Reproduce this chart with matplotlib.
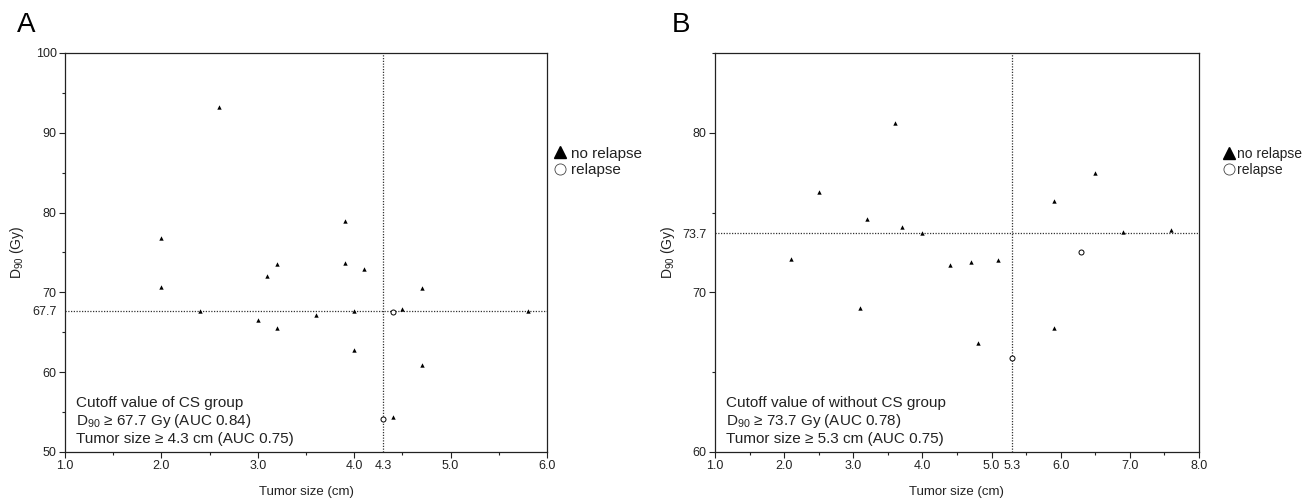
import matplotlib

matplotlib.use("Agg")
import matplotlib.pyplot as plt
from matplotlib.lines import Line2D
from matplotlib.ticker import MultipleLocator

plt.rcParams["font.family"] = ["Liberation Sans", "DejaVu Sans"]
plt.rcParams["mathtext.fontset"] = "custom"
plt.rcParams["mathtext.rm"] = "Liberation Sans"
plt.rcParams["mathtext.it"] = "Liberation Sans"

# panel A: CS group
a_norel_size = [2.6, 2.0, 3.9, 2.0, 2.4, 3.2, 3.1, 3.0, 3.2, 3.6, 3.9, 4.1, 4.7, 4.0, 4.5, 5.8, 4.0, 4.7, 4.4]
a_norel_d90 = [93.2, 76.8, 79.0, 70.7, 67.7, 73.6, 72.0, 66.6, 65.6, 67.2, 73.7, 72.9, 70.5, 67.7, 67.9, 67.7, 62.8, 60.9, 54.4]
a_rel_size = [4.4, 4.3]
a_rel_d90 = [67.5, 54.1]
a_cut_size = 4.3
a_cut_d90 = 67.7
a_lines = ["Cutoff value of CS group",
           "D$_{90}$ \u2265 67.7 Gy (AUC 0.84)",
           "Tumor size \u2265 4.3 cm (AUC 0.75)"]

# panel B: without CS group
b_norel_size = [3.6, 2.5, 3.2, 3.7, 4.0, 2.1, 3.1, 4.4, 4.7, 4.8, 5.1, 5.9, 6.9, 7.6, 5.9, 6.5]
b_norel_d90 = [80.6, 76.3, 74.6, 74.1, 73.7, 72.1, 69.0, 71.7, 71.9, 66.8, 72.0, 75.7, 73.8, 73.9, 67.8, 77.5]
b_rel_size = [6.3, 5.3]
b_rel_d90 = [72.5, 65.9]
b_cut_size = 5.3
b_cut_d90 = 73.7
b_lines = ["Cutoff value of without CS group",
           "D$_{90}$ \u2265 73.7 Gy (AUC 0.78)",
           "Tumor size \u2265 5.3 cm (AUC 0.75)"]

INK = "#222222"


def draw_panel(ax, letter, norel, rel, cut, xlim, ylim, yticks, lines,
               legend_x, legend_size, handle_len, label_x, letter_x):
    ax.scatter(norel[0], norel[1], marker="^", s=10, color="black", linewidths=0, zorder=3)
    ax.scatter(rel[0], rel[1], marker="o", s=13, facecolors="white", edgecolors="black",
               linewidths=0.7, zorder=3)
    ax.axvline(cut[0], color="#333333", linestyle=(0, (1, 1.2)), linewidth=0.9, zorder=2)
    ax.axhline(cut[1], color="#333333", linestyle=(0, (1, 1.2)), linewidth=0.9, zorder=2)

    ax.set_xlim(*xlim)
    ax.set_ylim(*ylim)
    xt = [float(v) for v in range(int(xlim[0]), int(xlim[1]) + 1)] + [cut[0]]
    ax.set_xticks(xt)
    ax.set_xticklabels([f"{v:.1f}" for v in xt])
    ax.xaxis.set_minor_locator(MultipleLocator(0.5))
    yt = list(yticks) + [cut[1]]
    ax.set_yticks(yt)
    ax.set_yticklabels([f"{v:g}" for v in yt])
    ax.yaxis.set_minor_locator(MultipleLocator(5))
    ax.tick_params(which="major", direction="out", length=4, width=0.8, color=INK,
                   labelsize=9, labelcolor=INK, pad=2)
    ax.tick_params(which="minor", direction="out", length=2.5, width=0.8, color=INK)
    for tick in ax.xaxis.get_major_ticks()[-1:] + ax.yaxis.get_major_ticks()[-1:]:
        tick.tick1line.set_visible(False)
    for spine in ax.spines.values():
        spine.set_color(INK)
        spine.set_linewidth(0.9)

    ax.set_xlabel("Tumor size (cm)", fontsize=9.5, color=INK)
    ax.xaxis.set_label_coords(0.5, -0.085)
    ax.xaxis.label.set_va("top")
    ax.set_ylabel("D$_{90}$ (Gy)", fontsize=10, color=INK)
    ax.yaxis.set_label_coords(label_x, 0.5)

    ax.text(0.023, 0.016, "\n".join(lines), transform=ax.transAxes, fontsize=11,
            color=INK, ha="left", va="bottom", linespacing=1.17)
    ax.text(letter_x, 1.053, letter, transform=ax.transAxes, fontsize=20, color="black",
            ha="left", va="baseline")

    handles = [
        Line2D([], [], marker="^", linestyle="none", markersize=8, color="black"),
        Line2D([], [], marker="o", linestyle="none", markersize=8,
               markerfacecolor="white", markeredgecolor="#444444", markeredgewidth=0.6),
    ]
    ax.legend(handles, ["no relapse", "relapse"], loc="upper left",
              bbox_to_anchor=(legend_x, 0.765), frameon=False, fontsize=legend_size,
              handlelength=handle_len, handletextpad=0.2, labelspacing=0.15,
              borderpad=0, borderaxespad=0, labelcolor=INK)


fig = plt.figure(figsize=(13.08, 4.99), dpi=100)
ax_a = fig.add_axes([0.0497, 0.0942, 0.3685, 0.7996])
ax_b = fig.add_axes([0.5466, 0.0942, 0.3700, 0.7996])

draw_panel(ax_a, "A", (a_norel_size, a_norel_d90), (a_rel_size, a_rel_d90),
           (a_cut_size, a_cut_d90), (1.0, 6.0), (50, 100), [50, 60, 70, 80, 90, 100],
           a_lines, 1.012, 11, 1.0, -0.081, -0.1)
draw_panel(ax_b, "B", (b_norel_size, b_norel_d90), (b_rel_size, b_rel_d90),
           (b_cut_size, b_cut_d90), (1.0, 8.0), (60, 85), [60, 70, 80],
           b_lines, 1.05, 10, 0.8, -0.078, -0.089)

fig.savefig("out.png", dpi=100)
